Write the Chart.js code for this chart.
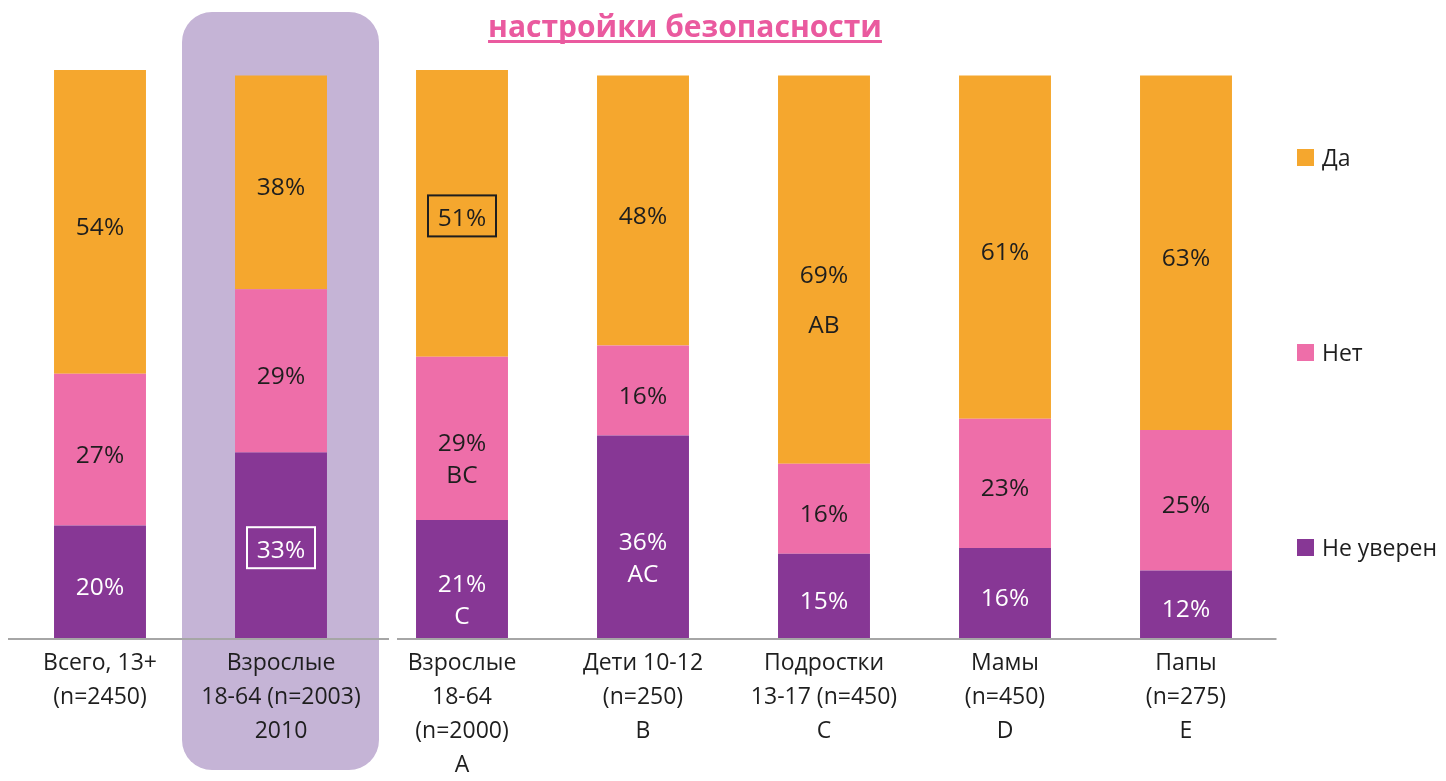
<!DOCTYPE html>
<html>
<head>
<meta charset="utf-8">
<script src="https://cdn.jsdelivr.net/npm/chart.js@4"></script>
<style>
  html, body { margin: 0; padding: 0; background: #fff; }
  #wrap { width: 1446px; height: 781px; position: relative; }
</style>
</head>
<body>
<div id="wrap"><canvas id="chart" width="1446" height="781"></canvas></div>
<script>
// data
const categories = [
    ['Всего, 13+', '(n=2450)'],
    ['Взрослые', '18-64 (n=2003)', '2010'],
    ['Взрослые', '18-64', '(n=2000)', 'A'],
    ['Дети 10-12', '(n=250)', 'B'],
    ['Подростки', '13-17 (n=450)', 'C'],
    ['Мамы', '(n=450)', 'D'],
    ['Папы', '(n=275)', 'E']
];
const seriesNames = ['Не уверен', 'Нет', 'Да'];
const notSure = [20, 33, 21, 36, 15, 16, 12];
const no = [27, 29, 29, 16, 16, 23, 25];
const yes = [54, 38, 51, 48, 69, 61, 63];
const notSureCodes = ['', '', 'C', 'AC', '', '', ''];
const noCodes = ['', '', 'BC', '', '', '', ''];
const yesCodes = ['', '', '', '', 'AB', '', ''];
const title = 'настройки безопасности';

const colors = ['#873795', '#ee6ea9', '#f5a72e'];
const textColors = ['#ffffff', '#1e1e1e', '#1e1e1e'];
const codes = [notSureCodes, noCodes, yesCodes];
// boxed labels: [datasetIndex, index, border colour]
const boxed = [[0, 1, '#ffffff'], [2, 2, '#1e1e1e']];
const highlightIndex = 1;
const FONT = '"Open Sans", "Noto Sans", sans-serif';

const decorPlugin = {
    id: 'decor',
    beforeDraw(chart) {
        const ctx = chart.ctx;
        const x = chart.scales.x.getPixelForValue(highlightIndex);
        const w = 197, left = x - 99, top = 12, bottom = 770, r = 30;
        ctx.save();
        ctx.fillStyle = '#c5b4d6';
        ctx.beginPath();
        ctx.roundRect(left, top, w, bottom - top, r);
        ctx.fill();
        ctx.restore();
    },
    afterDatasetsDraw(chart) {
        const ctx = chart.ctx;
        const area = chart.chartArea;
        ctx.save();
        // axis line with the small break right of the highlighted column
        ctx.strokeStyle = '#a6a6a6';
        ctx.lineWidth = 2;
        ctx.beginPath();
        ctx.moveTo(8, area.bottom + 1);
        ctx.lineTo(389, area.bottom + 1);
        ctx.moveTo(397, area.bottom + 1);
        ctx.lineTo(area.right, area.bottom + 1);
        ctx.stroke();

        // value labels inside the bars
        ctx.textAlign = 'center';
        ctx.textBaseline = 'middle';
        ctx.font = '24.5px ' + FONT;
        chart.data.datasets.forEach((ds, di) => {
            const meta = chart.getDatasetMeta(di);
            meta.data.forEach((bar, i) => {
                const cy = (bar.y + bar.base) / 2 + 6;
                const txt = ds.data[i] + '%';
                const code = codes[di][i];
                ctx.fillStyle = textColors[di];
                ctx.fillText(txt, bar.x, cy);
                if (code) {
                    const gap = di === 2 ? 50 : 32;
                    ctx.fillText(code, bar.x, cy + gap);
                }
                boxed.forEach(b => {
                    if (b[0] === di && b[1] === i) {
                        ctx.strokeStyle = b[2];
                        ctx.lineWidth = 2;
                        ctx.strokeRect(bar.x - 34, cy - 24, 68, 41);
                    }
                });
            });
        });

        // title
        ctx.font = 'bold 30px ' + FONT;
        ctx.fillStyle = '#ea5a9f';
        ctx.textBaseline = 'alphabetic';
        ctx.fillText(title, 685, 37);
        const tw = ctx.measureText(title).width;
        ctx.fillRect(685 - tw / 2, 40, tw, 3);

        // legend on the right
        const legendY = [548, 353, 158];
        ctx.font = '23px ' + FONT;
        ctx.textAlign = 'left';
        ctx.textBaseline = 'middle';
        seriesNames.forEach((name, k) => {
            ctx.fillStyle = colors[k];
            ctx.fillRect(1297, legendY[k] - 9, 17, 17);
            ctx.fillStyle = '#1e1e1e';
            ctx.fillText(name, 1322, legendY[k] + 1);
        });
        ctx.restore();
    }
};

new Chart(document.getElementById('chart'), {
    type: 'bar',
    data: {
        labels: categories,
        datasets: [
            { label: seriesNames[0], data: notSure, backgroundColor: colors[0] },
            { label: seriesNames[1], data: no, backgroundColor: colors[1] },
            { label: seriesNames[2], data: yes, backgroundColor: colors[2] }
        ]
    },
    options: {
        responsive: false,
        animation: false,
        layout: { padding: { left: 9.5, right: 169.5, top: 70, bottom: 0 } },
        datasets: { bar: { categoryPercentage: 1, barPercentage: 0.508 } },
        plugins: {
            legend: { display: false },
            tooltip: { enabled: false }
        },
        scales: {
            x: {
                stacked: true,
                grid: { display: false, drawTicks: false },
                border: { display: false },
                ticks: {
                    color: '#1e1e1e',
                    padding: 8,
                    maxRotation: 0,
                    autoSkip: false,
                    font: { family: FONT, size: 23, lineHeight: 34 / 23 }
                },
                afterFit(scale) { scale.height = 143; }
            },
            y: {
                stacked: true,
                display: false,
                min: 0,
                max: 101
            }
        }
    },
    plugins: [decorPlugin]
});
</script>
</body>
</html>
